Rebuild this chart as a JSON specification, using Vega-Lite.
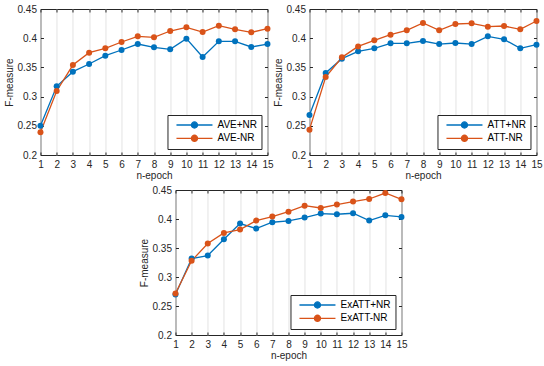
{
  "$schema": "https://vega.github.io/schema/vega-lite/v6.json",
  "padding": {"left": 3, "top": 3, "right": 3, "bottom": 3},
  "background": "white",
  "config": {
    "font": "Liberation Sans",
    "view": {"stroke": "#262626", "strokeWidth": 1},
    "axis": {
      "labelFont": "Liberation Sans", "labelFontSize": 10, "labelColor": "#262626",
      "titleFont": "Liberation Sans", "titleFontSize": 10, "titleFontWeight": "normal", "titleColor": "#262626",
      "domain": false, "tickColor": "#262626", "tickSize": -3, "labelPadding": 7,
      "labelOverlap": false, "labelBound": false, "labelFlush": false
    },
    "legend": {
      "labelFont": "Liberation Sans", "labelFontSize": 10, "labelColor": "#000000",
      "orient": "bottom-right", "offset": 6, "title": null,
      "strokeColor": "#262626", "fillColor": "white", "padding": 4,
      "symbolType": "M-1,0L1,0M0.17,0A0.17,0.17,0,1,1,-0.17,0A0.17,0.17,0,1,1,0.17,0Z",
      "symbolSize": 1296, "symbolStrokeWidth": 1.3, "symbolOffset": 4,
      "clipHeight": 12, "rowPadding": 1.3, "labelOffset": 4
    },
    "concat": {"spacing": 0}
  },
  "data": {"values": [
    {"p":"AVE","s":"AVE+NR","e":1,"v":0.250},{"p":"AVE","s":"AVE+NR","e":2,"v":0.3176},{"p":"AVE","s":"AVE+NR","e":3,"v":0.3427},{"p":"AVE","s":"AVE+NR","e":4,"v":0.3558},{"p":"AVE","s":"AVE+NR","e":5,"v":0.370},{"p":"AVE","s":"AVE+NR","e":6,"v":0.3798},{"p":"AVE","s":"AVE+NR","e":7,"v":0.390},{"p":"AVE","s":"AVE+NR","e":8,"v":0.3844},{"p":"AVE","s":"AVE+NR","e":9,"v":0.381},{"p":"AVE","s":"AVE+NR","e":10,"v":0.3992},{"p":"AVE","s":"AVE+NR","e":11,"v":0.3678},{"p":"AVE","s":"AVE+NR","e":12,"v":0.3946},{"p":"AVE","s":"AVE+NR","e":13,"v":0.3946},{"p":"AVE","s":"AVE+NR","e":14,"v":0.385},{"p":"AVE","s":"AVE+NR","e":15,"v":0.390},
    {"p":"AVE","s":"AVE-NR","e":1,"v":0.2388},{"p":"AVE","s":"AVE-NR","e":2,"v":0.3096},{"p":"AVE","s":"AVE-NR","e":3,"v":0.354},{"p":"AVE","s":"AVE-NR","e":4,"v":0.3752},{"p":"AVE","s":"AVE-NR","e":5,"v":0.3826},{"p":"AVE","s":"AVE-NR","e":6,"v":0.3935},{"p":"AVE","s":"AVE-NR","e":7,"v":0.4032},{"p":"AVE","s":"AVE-NR","e":8,"v":0.4015},{"p":"AVE","s":"AVE-NR","e":9,"v":0.4123},{"p":"AVE","s":"AVE-NR","e":10,"v":0.4186},{"p":"AVE","s":"AVE-NR","e":11,"v":0.4106},{"p":"AVE","s":"AVE-NR","e":12,"v":0.4215},{"p":"AVE","s":"AVE-NR","e":13,"v":0.4152},{"p":"AVE","s":"AVE-NR","e":14,"v":0.410},{"p":"AVE","s":"AVE-NR","e":15,"v":0.4163},
    {"p":"ATT","s":"ATT+NR","e":1,"v":0.2685},{"p":"ATT","s":"ATT+NR","e":2,"v":0.3404},{"p":"ATT","s":"ATT+NR","e":3,"v":0.365},{"p":"ATT","s":"ATT+NR","e":4,"v":0.3775},{"p":"ATT","s":"ATT+NR","e":5,"v":0.3826},{"p":"ATT","s":"ATT+NR","e":6,"v":0.3912},{"p":"ATT","s":"ATT+NR","e":7,"v":0.3912},{"p":"ATT","s":"ATT+NR","e":8,"v":0.3952},{"p":"ATT","s":"ATT+NR","e":9,"v":0.390},{"p":"ATT","s":"ATT+NR","e":10,"v":0.3918},{"p":"ATT","s":"ATT+NR","e":11,"v":0.390},{"p":"ATT","s":"ATT+NR","e":12,"v":0.4032},{"p":"ATT","s":"ATT+NR","e":13,"v":0.398},{"p":"ATT","s":"ATT+NR","e":14,"v":0.3826},{"p":"ATT","s":"ATT+NR","e":15,"v":0.3889},
    {"p":"ATT","s":"ATT-NR","e":1,"v":0.2434},{"p":"ATT","s":"ATT-NR","e":2,"v":0.3336},{"p":"ATT","s":"ATT-NR","e":3,"v":0.3672},{"p":"ATT","s":"ATT-NR","e":4,"v":0.386},{"p":"ATT","s":"ATT-NR","e":5,"v":0.3963},{"p":"ATT","s":"ATT-NR","e":6,"v":0.406},{"p":"ATT","s":"ATT-NR","e":7,"v":0.4135},{"p":"ATT","s":"ATT-NR","e":8,"v":0.426},{"p":"ATT","s":"ATT-NR","e":9,"v":0.4135},{"p":"ATT","s":"ATT-NR","e":10,"v":0.4243},{"p":"ATT","s":"ATT-NR","e":11,"v":0.4255},{"p":"ATT","s":"ATT-NR","e":12,"v":0.4197},{"p":"ATT","s":"ATT-NR","e":13,"v":0.4209},{"p":"ATT","s":"ATT-NR","e":14,"v":0.4152},{"p":"ATT","s":"ATT-NR","e":15,"v":0.4295},
    {"p":"ExATT","s":"ExATT+NR","e":1,"v":0.270},{"p":"ExATT","s":"ExATT+NR","e":2,"v":0.3319},{"p":"ExATT","s":"ExATT+NR","e":3,"v":0.337},{"p":"ExATT","s":"ExATT+NR","e":4,"v":0.3651},{"p":"ExATT","s":"ExATT+NR","e":5,"v":0.3921},{"p":"ExATT","s":"ExATT+NR","e":6,"v":0.3835},{"p":"ExATT","s":"ExATT+NR","e":7,"v":0.3944},{"p":"ExATT","s":"ExATT+NR","e":8,"v":0.3967},{"p":"ExATT","s":"ExATT+NR","e":9,"v":0.4024},{"p":"ExATT","s":"ExATT+NR","e":10,"v":0.4093},{"p":"ExATT","s":"ExATT+NR","e":11,"v":0.4082},{"p":"ExATT","s":"ExATT+NR","e":12,"v":0.4099},{"p":"ExATT","s":"ExATT+NR","e":13,"v":0.3972},{"p":"ExATT","s":"ExATT+NR","e":14,"v":0.4064},{"p":"ExATT","s":"ExATT+NR","e":15,"v":0.4036},
    {"p":"ExATT","s":"ExATT-NR","e":1,"v":0.2717},{"p":"ExATT","s":"ExATT-NR","e":2,"v":0.3279},{"p":"ExATT","s":"ExATT-NR","e":3,"v":0.3577},{"p":"ExATT","s":"ExATT-NR","e":4,"v":0.376},{"p":"ExATT","s":"ExATT-NR","e":5,"v":0.3818},{"p":"ExATT","s":"ExATT-NR","e":6,"v":0.3972},{"p":"ExATT","s":"ExATT-NR","e":7,"v":0.4041},{"p":"ExATT","s":"ExATT-NR","e":8,"v":0.4127},{"p":"ExATT","s":"ExATT-NR","e":9,"v":0.423},{"p":"ExATT","s":"ExATT-NR","e":10,"v":0.419},{"p":"ExATT","s":"ExATT-NR","e":11,"v":0.4248},{"p":"ExATT","s":"ExATT-NR","e":12,"v":0.430},{"p":"ExATT","s":"ExATT-NR","e":13,"v":0.4345},{"p":"ExATT","s":"ExATT-NR","e":14,"v":0.4448},{"p":"ExATT","s":"ExATT-NR","e":15,"v":0.434}
  ]},
  "vconcat": [
    {
      "spacing": -2,
      "hconcat": [
        {
          "width": 227, "height": 146,
          "transform": [{"filter": "datum.p == 'AVE'"}],
          "layer": [
            {"mark": {"type": "point", "opacity": 0},
             "encoding": {
               "x": {"field": "e", "type": "quantitative", "scale": {"domain": [1, 15], "nice": false}, "axis": {"orient": "top", "labels": false, "title": null, "values": [1,2,3,4,5,6,7,8,9,10,11,12,13,14,15], "grid": false}},
               "y": {"field": "v", "type": "quantitative", "scale": {"domain": [0.2, 0.45], "nice": false, "zero": false}, "axis": {"orient": "right", "labels": false, "title": null, "values": [0.2,0.25,0.3,0.35,0.4,0.45], "grid": false}}
             }},
            {"layer": [
              {"mark": {"type": "line", "strokeWidth": 1.3}, "encoding": {"stroke": {"field": "s", "type": "nominal", "scale": {"domain": ["AVE+NR", "AVE-NR"], "range": ["#0072BD", "#D95319"]}}}},
              {"mark": {"type": "point", "shape": "circle", "filled": true, "size": 36, "opacity": 1}, "encoding": {"fill": {"field": "s", "type": "nominal", "scale": {"domain": ["AVE+NR", "AVE-NR"], "range": ["#0072BD", "#D95319"]}}}}
             ],
             "encoding": {
               "x": {"field": "e", "type": "quantitative", "scale": {"domain": [1, 15], "nice": false}, "axis": {"orient": "bottom", "title": "n-epoch", "values": [1,2,3,4,5,6,7,8,9,10,11,12,13,14,15], "grid": true, "gridColor": "#e3e3e3", "titlePadding": 1}},
               "y": {"field": "v", "type": "quantitative", "scale": {"domain": [0.2, 0.45], "nice": false, "zero": false}, "axis": {"orient": "left", "title": "F-measure", "values": [0.2,0.25,0.3,0.35,0.4,0.45], "format": ".2~f", "grid": false, "titlePadding": 3}}
             }}
          ],
          "resolve": {"scale": {"x": "independent", "y": "independent"}}
        },
        {
          "width": 227, "height": 146,
          "transform": [{"filter": "datum.p == 'ATT'"}],
          "layer": [
            {"mark": {"type": "point", "opacity": 0},
             "encoding": {
               "x": {"field": "e", "type": "quantitative", "scale": {"domain": [1, 15], "nice": false}, "axis": {"orient": "top", "labels": false, "title": null, "values": [1,2,3,4,5,6,7,8,9,10,11,12,13,14,15], "grid": false}},
               "y": {"field": "v", "type": "quantitative", "scale": {"domain": [0.2, 0.45], "nice": false, "zero": false}, "axis": {"orient": "right", "labels": false, "title": null, "values": [0.2,0.25,0.3,0.35,0.4,0.45], "grid": false}}
             }},
            {"layer": [
              {"mark": {"type": "line", "strokeWidth": 1.3}, "encoding": {"stroke": {"field": "s", "type": "nominal", "scale": {"domain": ["ATT+NR", "ATT-NR"], "range": ["#0072BD", "#D95319"]}}}},
              {"mark": {"type": "point", "shape": "circle", "filled": true, "size": 36, "opacity": 1}, "encoding": {"fill": {"field": "s", "type": "nominal", "scale": {"domain": ["ATT+NR", "ATT-NR"], "range": ["#0072BD", "#D95319"]}}}}
             ],
             "encoding": {
               "x": {"field": "e", "type": "quantitative", "scale": {"domain": [1, 15], "nice": false}, "axis": {"orient": "bottom", "title": "n-epoch", "values": [1,2,3,4,5,6,7,8,9,10,11,12,13,14,15], "grid": true, "gridColor": "#e3e3e3", "titlePadding": 1}},
               "y": {"field": "v", "type": "quantitative", "scale": {"domain": [0.2, 0.45], "nice": false, "zero": false}, "axis": {"orient": "left", "title": "F-measure", "values": [0.2,0.25,0.3,0.35,0.4,0.45], "format": ".2~f", "grid": false, "titlePadding": 3}}
             }}
          ],
          "resolve": {"scale": {"x": "independent", "y": "independent"}}
        }
      ],
      "resolve": {"scale": {"stroke": "independent", "fill": "independent", "x": "independent", "y": "independent"}, "legend": {"stroke": "independent", "fill": "independent"}}
    },
    {
      "width": 226, "height": 145,
      "transform": [{"filter": "datum.p == 'ExATT'"}],
      "layer": [
        {"mark": {"type": "point", "opacity": 0},
         "encoding": {
           "x": {"field": "e", "type": "quantitative", "scale": {"domain": [1, 15], "nice": false}, "axis": {"orient": "top", "labels": false, "title": null, "values": [1,2,3,4,5,6,7,8,9,10,11,12,13,14,15], "grid": false}},
           "y": {"field": "v", "type": "quantitative", "scale": {"domain": [0.2, 0.45], "nice": false, "zero": false}, "axis": {"orient": "right", "labels": false, "title": null, "values": [0.2,0.25,0.3,0.35,0.4,0.45], "grid": false}}
         }},
        {"layer": [
          {"mark": {"type": "line", "strokeWidth": 1.3}, "encoding": {"stroke": {"field": "s", "type": "nominal", "scale": {"domain": ["ExATT+NR", "ExATT-NR"], "range": ["#0072BD", "#D95319"]}}}},
          {"mark": {"type": "point", "shape": "circle", "filled": true, "size": 36, "opacity": 1}, "encoding": {"fill": {"field": "s", "type": "nominal", "scale": {"domain": ["ExATT+NR", "ExATT-NR"], "range": ["#0072BD", "#D95319"]}}}}
         ],
         "encoding": {
           "x": {"field": "e", "type": "quantitative", "scale": {"domain": [1, 15], "nice": false}, "axis": {"orient": "bottom", "title": "n-epoch", "values": [1,2,3,4,5,6,7,8,9,10,11,12,13,14,15], "grid": true, "gridColor": "#e3e3e3", "titlePadding": 1}},
           "y": {"field": "v", "type": "quantitative", "scale": {"domain": [0.2, 0.45], "nice": false, "zero": false}, "axis": {"orient": "left", "title": "F-measure", "values": [0.2,0.25,0.3,0.35,0.4,0.45], "format": ".2~f", "grid": false, "titlePadding": 3}}
         }}
      ],
      "resolve": {"scale": {"x": "independent", "y": "independent"}}
    }
  ],
  "spacing": 3,
  "center": true,
  "resolve": {"scale": {"stroke": "independent", "fill": "independent", "x": "independent", "y": "independent"}, "legend": {"stroke": "independent", "fill": "independent"}}
}
